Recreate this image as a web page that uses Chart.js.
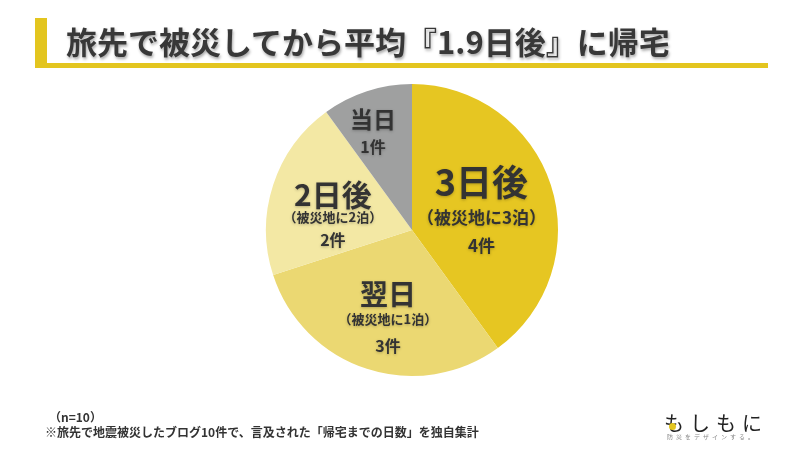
<!DOCTYPE html>
<html>
<head>
<meta charset="utf-8">
<script src="https://cdn.jsdelivr.net/npm/chart.js@4"></script>
<style>
  body { margin:0; background:#fff; font-family:"Noto Sans CJK JP","Noto Sans",sans-serif; }
  #wrap { position:relative; width:800px; height:450px; overflow:hidden; }
  #myChart { position:absolute; left:0; top:0; }
  .bar { position:absolute; left:35px; top:18px; width:12px; height:50px; background:#E3C51F; }
  .line { position:absolute; left:35px; top:63px; width:733px; height:5px; background:#E3C51F; }
  .title { position:absolute; left:66px; top:18px; font-size:31px; font-weight:bold; color:#383838; text-shadow:1px 2px 3px rgba(0,0,0,0.35); white-space:nowrap; }
  .n { position:absolute; left:49px; top:408px; font-size:12px; font-weight:bold; color:#333; }
  .note { position:absolute; left:45px; top:423px; font-size:12px; font-weight:bold; color:#333; white-space:nowrap; }
  .logo { position:absolute; left:664px; top:408px; font-size:20px; color:#222; letter-spacing:6px; white-space:nowrap; }
  .logo .dot { position:absolute; left:5px; top:15px; width:7px; height:7px; border-radius:50%; background:#E3C51F; }
  .logosub { position:absolute; left:667px; top:432px; font-size:6px; color:#888; letter-spacing:3px; white-space:nowrap; }
</style>
</head>
<body>
<div id="wrap">
  <canvas id="myChart" width="800" height="450"></canvas>
  <div class="bar"></div>
  <div class="line"></div>
  <div class="title">旅先で被災してから平均『1.9日後』に帰宅</div>
  <div class="n">（n=10）</div>
  <div class="note">※旅先で地震被災したブログ10件で、言及された「帰宅までの日数」を独自集計</div>
  <div class="logo">もしもに<span class="dot"></span></div>
  <div class="logosub">防災をデザインする。</div>
</div>
<script>
"use strict";

const categories = ["3日後", "翌日", "2日後", "当日"];
const subLabels = ["（被災地に3泊）", "（被災地に1泊）", "（被災地に2泊）", ""];
const counts = [4, 3, 2, 1];
const countLabels = ["4件", "3件", "2件", "1件"];
const sliceColors = ["#E6C622", "#EBD872", "#F3E8A4", "#9FA0A0"];

// label placement per slice
const labelRadius = [0.50, 0.60, 0.57, 0.71];
const labelDx = [0, 3, 0, -7];
const bigSize = [36, 28, 30, 23];
const subSize = [17, 13, 13, 0];
const cntSize = [17, 16, 16, 16];
const bigDy = [-25, -19, -10, -12];
const subDy = [10, 6, 13, 0];
const cntDy = [38, 33, 36, 16];

const sliceLabels = {
	id: "sliceLabels",
	afterDatasetsDraw: function (chart) {
		const ctx = chart.ctx;
		const meta = chart.getDatasetMeta(0);
		meta.data.forEach(function (arc, i) {
			const mid = (arc.startAngle + arc.endAngle) / 2;
			const r = arc.outerRadius * labelRadius[i];
			const x = arc.x + Math.cos(mid) * r + labelDx[i];
			const y = arc.y + Math.sin(mid) * r;
			ctx.save();
			ctx.fillStyle = "#333";
			ctx.textAlign = "center";
			ctx.textBaseline = "middle";
			ctx.shadowColor = "rgba(0,0,0,0.25)";
			ctx.shadowBlur = 3;
			ctx.shadowOffsetY = 1;
			ctx.font = "bold " + bigSize[i] + "px 'Noto Sans CJK JP'";
			ctx.fillText(categories[i], x, y + bigDy[i]);
			if (subLabels[i]) {
				ctx.font = "bold " + subSize[i] + "px 'Noto Sans CJK JP'";
				ctx.fillText(subLabels[i], x, y + subDy[i]);
			}
			ctx.font = "bold " + cntSize[i] + "px 'Noto Sans CJK JP'";
			ctx.fillText(countLabels[i], x, y + cntDy[i]);
			ctx.restore();
		});
	}
};

const ctx = document.getElementById("myChart").getContext("2d");
const myChart = new Chart(ctx, {
	type: "pie",
	data: {
		labels: categories,
		datasets: [{
			data: counts,
			backgroundColor: sliceColors,
			borderWidth: 0
		}]
	},
	options: {
		responsive: false,
		animation: false,
		layout: { padding: { left: 266, right: 242, top: 84, bottom: 74 } },
		plugins: {
			legend: { display: false },
			tooltip: { enabled: false }
		}
	},
	plugins: [sliceLabels]
});
</script>
</body>
</html>
